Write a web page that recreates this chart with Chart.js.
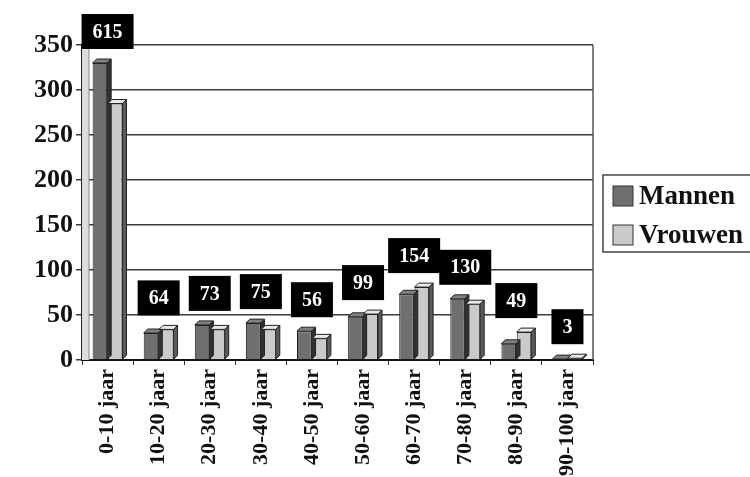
<!DOCTYPE html>
<html lang="nl">
<head>
  <meta charset="UTF-8" />
  <title>Leeftijdsverdeling</title>
  <script src="https://cdn.jsdelivr.net/npm/chart.js"></script>
  <style>
    html, body { margin: 0; padding: 0; background: #fff; }
    #wrap { width: 750px; height: 477px; position: relative; }
  </style>
</head>
<body>
  <div id="wrap"><canvas id="leeftijd"></canvas></div>

  <script>
    const categorieen = ['0-10 jaar', '10-20 jaar', '20-30 jaar', '30-40 jaar', '40-50 jaar',
                         '50-60 jaar', '60-70 jaar', '70-80 jaar', '80-90 jaar', '90-100 jaar'];
    const mannen   = [330, 30, 39, 41, 32, 48, 73, 68, 18, 1];
    const vrouwen  = [285, 34, 34, 34, 24, 51, 81, 62, 31, 2];
    const totalen  = [615, 64, 73, 75, 56, 99, 154, 130, 49, 3];
    const yTicks   = [0, 50, 100, 150, 200, 250, 300, 350];

    const SERIF = '"Liberation Serif", "DejaVu Serif", serif';
    const DIEPTE = 4;

    function shade(hex, f) {
      const n = parseInt(hex.slice(1), 16);
      let r = (n >> 16) & 255, g = (n >> 8) & 255, b = n & 255;
      r = Math.round(Math.min(255, r * f)); g = Math.round(Math.min(255, g * f)); b = Math.round(Math.min(255, b * f));
      return `rgb(${r},${g},${b})`;
    }

    // wand, 3D-zijkanten, totaalvakjes en legenda
    const decor = {
      id: 'decor',
      beforeDatasetsDraw(chart) {
        const { ctx, chartArea: a } = chart;
        ctx.save();
        ctx.fillStyle = '#dcdcdc';
        ctx.fillRect(a.left, a.top, 7, a.bottom - a.top);
        ctx.strokeStyle = '#888';
        ctx.lineWidth = 1;
        ctx.beginPath();
        ctx.moveTo(a.left + 7, a.top);
        ctx.lineTo(a.left + 7, a.bottom);
        ctx.stroke();
        // rechterrand van het plotvlak
        ctx.strokeStyle = '#555';
        ctx.lineWidth = 1.5;
        ctx.beginPath();
        ctx.moveTo(a.right, a.top);
        ctx.lineTo(a.right, a.bottom);
        ctx.stroke();
        ctx.restore();
      },
      afterDatasetsDraw(chart) {
        const { ctx } = chart;
        ctx.save();
        chart.data.datasets.forEach((ds, di) => {
          const meta = chart.getDatasetMeta(di);
          meta.data.forEach(bar => {
            const x0 = bar.x - bar.width / 2, x1 = bar.x + bar.width / 2;
            const y = bar.y, base = bar.base;
            // bovenvlak
            ctx.fillStyle = shade(ds.backgroundColor, 1.15);
            ctx.strokeStyle = '#222';
            ctx.lineWidth = 1;
            ctx.beginPath();
            ctx.moveTo(x0, y);
            ctx.lineTo(x0 + DIEPTE, y - DIEPTE);
            ctx.lineTo(x1 + DIEPTE, y - DIEPTE);
            ctx.lineTo(x1, y);
            ctx.closePath();
            ctx.fill(); ctx.stroke();
            // zijvlak
            ctx.fillStyle = shade(ds.backgroundColor, 0.45);
            ctx.beginPath();
            ctx.moveTo(x1, y);
            ctx.lineTo(x1 + DIEPTE, y - DIEPTE);
            ctx.lineTo(x1 + DIEPTE, base - DIEPTE);
            ctx.lineTo(x1, base);
            ctx.closePath();
            ctx.fill(); ctx.stroke();
          });
        });
        ctx.restore();
      },
      afterDraw(chart) {
        const { ctx, scales } = chart;
        ctx.save();
        // totaalvakjes
        ctx.font = 'bold 20px ' + SERIF;
        ctx.textAlign = 'center';
        ctx.textBaseline = 'middle';
        totalen.forEach((t, i) => {
          const x = scales.x.getPixelForValue(i);
          const top = Math.min(scales.y.getPixelForValue(mannen[i]), scales.y.getPixelForValue(vrouwen[i]));
          const txt = String(t);
          const w = ctx.measureText(txt).width + 22;
          const h = 35;
          const bottom = top - 14;
          ctx.fillStyle = '#000';
          ctx.fillRect(x - w / 2, bottom - h, w, h);
          ctx.fillStyle = '#fff';
          ctx.fillText(txt, x, bottom - h / 2 + 1);
        });
        // legenda
        const lx = chart.chartArea.right + 10, ly = 175, lw = 160, lh = 77;
        ctx.fillStyle = '#fff';
        ctx.fillRect(lx, ly, lw, lh);
        ctx.strokeStyle = '#444';
        ctx.lineWidth = 1.5;
        ctx.strokeRect(lx, ly, lw, lh);
        ctx.font = 'bold 27px ' + SERIF;
        ctx.textAlign = 'left';
        chart.data.datasets.forEach((ds, di) => {
          const cy = ly + 21 + di * 39;
          ctx.fillStyle = ds.backgroundColor;
          ctx.fillRect(lx + 10, cy - 10, 20, 20);
          ctx.strokeStyle = '#333';
          ctx.lineWidth = 1;
          ctx.strokeRect(lx + 10, cy - 10, 20, 20);
          ctx.fillStyle = '#111';
          ctx.fillText(ds.label, lx + 36, cy + 1);
        });
        ctx.restore();
      }
    };

    new Chart(document.getElementById('leeftijd'), {
      type: 'bar',
      data: {
        labels: categorieen,
        datasets: [
          { label: 'Mannen', data: mannen, backgroundColor: '#6f6f6f', borderColor: '#222', borderWidth: 1,
            categoryPercentage: 0.6, barPercentage: 0.95 },
          { label: 'Vrouwen', data: vrouwen, backgroundColor: '#cacaca', borderColor: '#222', borderWidth: 1,
            categoryPercentage: 0.6, barPercentage: 0.95 }
        ]
      },
      options: {
        responsive: true,
        maintainAspectRatio: false,
        animation: false,
        layout: { padding: { left: 0, right: 157, top: 45, bottom: 0 } },
        plugins: { legend: { display: false }, tooltip: { enabled: false } },
        scales: {
          x: {
            afterFit: s => { s.height = 117; },
            grid: { drawOnChartArea: false, drawTicks: true, tickLength: 5, offset: true, color: '#333' },
            border: { color: '#111', width: 2 },
            ticks: {
              minRotation: 90, maxRotation: 90, padding: 4, color: '#111',
              font: { family: SERIF, size: 22, weight: 'bold' }
            }
          },
          y: {
            min: 0, max: 350,
            afterFit: s => { s.width = 82; },
            afterBuildTicks: s => { s.ticks = yTicks.map(v => ({ value: v })); },
            grid: { color: '#3a3a3a', lineWidth: 1.5, tickLength: 6 },
            border: { color: '#222', width: 1.5 },
            ticks: {
              padding: 3, color: '#111',
              font: { family: SERIF, size: 26, weight: 'bold' }
            }
          }
        }
      },
      plugins: [decor]
    });
  </script>
</body>
</html>
